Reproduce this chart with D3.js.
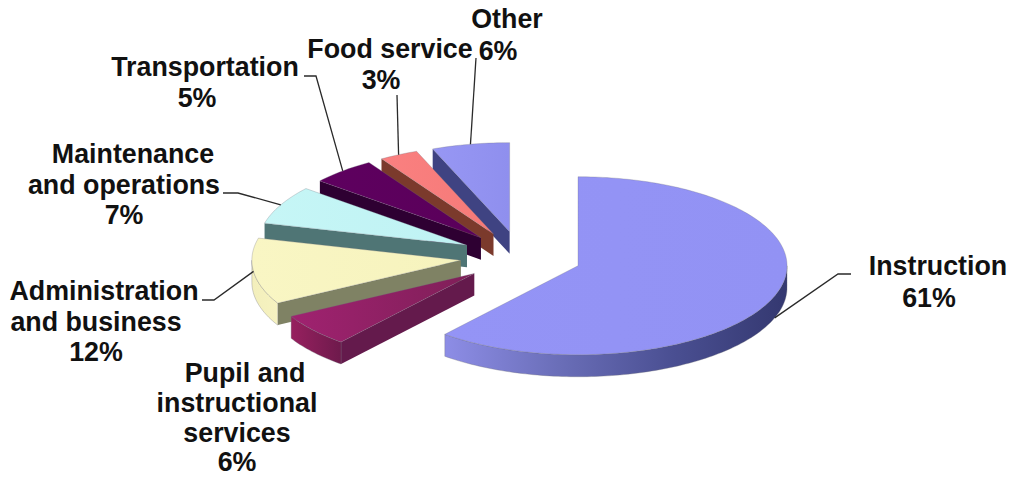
<!DOCTYPE html>
<html>
<head>
<meta charset="utf-8">
<script src="https://cdn.jsdelivr.net/npm/d3@7/dist/d3.min.js"></script>
<style>
  html, body { margin: 0; padding: 0; background: #fff; }
  svg { display: block; }
  text { font-family: "Liberation Sans", Arial, sans-serif; font-weight: 700; fill: #111; }
</style>
</head>
<body>
<div id="chart"></div>
<script>
// Share of spending by category, percent of total.
const categories = [
  "Instruction",
  "Pupil and instructional services",
  "Administration and business",
  "Maintenance and operations",
  "Transportation",
  "Food service",
  "Other"
];
const shares = [61, 6, 12, 7, 5, 3, 6];

// Text of each label's name, broken over lines.
const nameLines = [
  ["Instruction"],
  ["Pupil and", "instructional", "services"],
  ["Administration", "and business"],
  ["Maintenance", "and operations"],
  ["Transportation"],
  ["Food service"],
  ["Other"]
];

// Face colours per category.
const topColours = [
  ["#9494f6", "#9292f4"], ["#a02270", "#7f1f58"], ["#f9f6c4", "#f6f3bd"], ["#c6f6f6", "#bff2f4"],
  ["#5e005f", "#5a005a"], ["#fa8080", "#f57a78"], ["#9797f4", "#8f8fee"]
];
const wallColours = ["#3f4384", "#641a4c", "#7f8264", "#4f7575", "#2e0032", "#7b3a2c", "#3f4382"];
const rimColours = [
  ["#8d8de6", "#343870"], ["#97205f", "#6e1a4c"], ["#f3efbc", "#f6f2c0"], ["#4f7575", "#4f7575"],
  ["#2e0032", "#2e0032"], ["#7b3a2c", "#7b3a2c"], ["#3f4382", "#3f4382"]
];

// Baseline anchors of label lines, and the elbow each leader line runs through.
const labelLayout = [
  { lines: [[938, 275], [929, 307]], leader: [[838, 274], [851, 274]], front: true },
  { lines: [[245, 382], [237, 412], [237, 442], [237, 471]], leader: null },
  { lines: [[104, 300], [96, 331], [96, 361]], leader: [[214, 300], [202, 300]] },
  { lines: [[133, 163], [124, 194], [124, 224]], leader: [[238, 193], [223, 193]] },
  { lines: [[205, 76], [197, 107]], leader: [[316, 76], [304, 76]] },
  { lines: [[390, 58], [381, 89]], leader: [[397, 95]] },
  { lines: [[507, 28], [498, 60]], leader: [[476, 58]] }
];
const labelFontSize = 26.8;

const width = 1010, height = 477;
const explode = 0.29;   // how far each slice is pulled out, as a fraction of the radius
const depth = 22;       // wall height in pixels

// Unit-disc coordinates to pixels: the tilt flattens y against x.
const x = d3.scaleLinear().domain([-1, 1]).range([521 - 209, 521 + 209]);
const y = d3.scaleLinear().domain([-1, 1]).range([257 + 89, 257 - 89]);

const pie = d3.pie().sort(null).startAngle(0).endAngle(2 * Math.PI);
const arcs = pie(shares);

const svg = d3.select("#chart").append("svg")
  .attr("width", width).attr("height", height)
  .attr("viewBox", [0, 0, width, height]);
const defs = svg.append("defs");

const line = d3.line();

// Slice apex after explosion, in unit-disc coordinates.
function apex(a) {
  const mid = (a.startAngle + a.endAngle) / 2;
  return [explode * Math.sin(mid), explode * Math.cos(mid)];
}
// Screen point on a slice at a given angle and fraction of the radius.
function point(a, angle, r, drop) {
  const [ax, ay] = apex(a);
  return [x(ax + r * Math.sin(angle)), y(ay + r * Math.cos(angle)) + (drop || 0)];
}
// Points along the outer edge between two angles.
function edge(a, from, to, drop) {
  const steps = Math.max(2, Math.ceil(Math.abs(to - from) / 0.02));
  return d3.range(steps + 1).map(i => point(a, from + (to - from) * i / steps, 1, drop));
}

function linearGradient(id, stops, x1, x2) {
  const g = defs.append("linearGradient").attr("id", id)
    .attr("gradientUnits", "userSpaceOnUse")
    .attr("x1", x1).attr("x2", x2).attr("y1", 0).attr("y2", 0);
  stops.forEach((c, i) => g.append("stop")
    .attr("offset", i / (stops.length - 1)).attr("stop-color", c));
  return `url(#${id})`;
}

const stroke = "rgba(110,110,120,0.55)";
const chart = svg.append("g").attr("class", "slices");

// Painted from the back of the pie to the front.
arcs.map((a, i) => ({ a, i })).reverse().forEach(({ a, i }) => {
  const g = chart.append("g").attr("class", "slice").attr("data-name", categories[i]);
  const a0 = a.startAngle, a1 = a.endAngle;
  const centre = point(a, 0, 0);
  const xs = edge(a, a0, a1).map(p => p[0]).concat(centre[0]);
  const [minX, maxX] = d3.extent(xs);

  // Radial walls turned towards the viewer.
  [[a0, a0 - Math.PI / 2], [a1, a1 + Math.PI / 2]].forEach(([angle, normal]) => {
    if (Math.cos(normal) < -1e-6) {
      const outer = point(a, angle, 1);
      g.append("path")
        .attr("d", line([centre, outer, [outer[0], outer[1] + depth], [centre[0], centre[1] + depth]]) + "Z")
        .attr("fill", wallColours[i]);
    }
  });

  // Outer rim, only where the edge faces the front.
  const rimFrom = Math.max(a0, Math.PI / 2), rimTo = Math.min(a1, 3 * Math.PI / 2);
  if (rimFrom < rimTo) {
    const rimTop = edge(a, rimFrom, rimTo);
    const rimBottom = edge(a, rimTo, rimFrom, depth);
    const rx = d3.extent(rimTop, p => p[0]);
    const fill = i === 0
      ? linearGradient("rim" + i, [rimColours[i][0], "#6a6eb8", "#4a4f92", rimColours[i][1]], rx[0], rx[1])
      : linearGradient("rim" + i, rimColours[i], rx[0], rx[1]);
    g.append("path")
      .attr("d", line(rimTop.concat(rimBottom)) + "Z")
      .attr("fill", fill)
      .attr("stroke", stroke).attr("stroke-width", 0.6);
  }

  // Top face.
  g.append("path")
    .attr("d", line([centre].concat(edge(a, a0, a1))) + "Z")
    .attr("fill", linearGradient("top" + i, topColours[i], minX, maxX))
    .attr("stroke", stroke).attr("stroke-width", 0.5);
});

// Leader lines start on the slice edge at its mid angle.
const leaders = svg.append("g").attr("class", "leaders");
arcs.forEach((a, i) => {
  const spec = labelLayout[i];
  if (!spec.leader) return;
  const mid = (a.startAngle + a.endAngle) / 2;
  const start = point(a, mid, 1, spec.front ? depth : 0);
  leaders.append("path")
    .attr("d", line([start].concat(spec.leader)))
    .attr("fill", "none").attr("stroke", "#2a2a2a").attr("stroke-width", 1.3);
});

// Labels: name lines followed by the value.
const labels = svg.append("g").attr("class", "labels");
arcs.forEach((a, i) => {
  const spec = labelLayout[i];
  const rows = nameLines[i].concat(`${shares[i]}%`);
  labels.selectAll(null).data(rows).join("text")
    .attr("x", (d, k) => spec.lines[k][0])
    .attr("y", (d, k) => spec.lines[k][1])
    .attr("text-anchor", "middle")
    .attr("font-size", labelFontSize)
    .text(d => d);
});
</script>
</body>
</html>
